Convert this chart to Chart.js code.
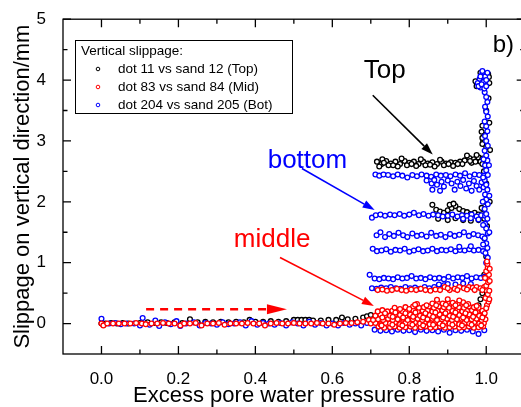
<!DOCTYPE html>
<html>
<head>
<meta charset="utf-8">
<script src="https://cdn.jsdelivr.net/npm/chart.js@4.4.1/dist/chart.umd.min.js"></script>
<style>
  html, body { margin: 0; padding: 0; background: #fff; overflow: hidden; }
  #chart { display: block; }
</style>
</head>
<body>
<canvas id="chart" width="530" height="407"></canvas>
<script>
// tick labels
const xTicks = [0, 0.2, 0.4, 0.6, 0.8, 1.0];
const xMinor = [0.1, 0.3, 0.5, 0.7, 0.9];
const yTicks = [0, 1, 2, 3, 4, 5];
const yMinor = [0.5, 1.5, 2.5, 3.5, 4.5];

const seriesNames = ['dot 11 vs sand 12 (Top)', 'dot 83 vs sand 84 (Mid)', 'dot 204 vs sand 205 (Bot)'];

// dot 11 vs sand 12 (Top), flat x,y pairs
const topBaseline = [
  0,0, 0.01,0, 0.025,0.01, 0.04,0, 0.055,0.01, 0.07,0, 0.1,0.01, 0.12,0.02, 0.14,0.01, 0.155,0.02,
  0.17,0.01, 0.19,0.02, 0.21,0.01, 0.23,0.07, 0.25,0.02, 0.27,0.03, 0.29,0.02, 0.31,0.03, 0.33,0.02,
  0.35,0.03, 0.37,0.02, 0.385,0.06, 0.4,0.03, 0.42,0.03, 0.44,0.04, 0.46,0.03, 0.48,0.04, 0.5,0.06,
  0.51,0.06, 0.52,0.06, 0.53,0.06, 0.54,0.06, 0.55,0.05, 0.57,0.05, 0.59,0.06, 0.61,0.06, 0.625,0.1,
  0.64,0.07, 0.66,0.08, 0.68,0.1, 0.69,0.12, 0.7,0.14, 0.72,0.15, 0.74,0.14, 0.76,0.15, 0.78,0.14,
  0.8,0.15, 0.82,0.14, 0.84,0.15, 0.86,0.15, 0.88,0.14, 0.9,0.15, 0.92,0.15, 0.94,0.16, 0.96,0.18,
  0.97,0.22, 0.98,0.3, 0.985,0.4
];
const topBandHigh = [
  0.716,2.66, 0.728,2.62, 0.74,2.67, 0.752,2.63, 0.764,2.66, 0.776,2.62, 0.788,2.67, 0.8,2.64,
  0.812,2.66, 0.824,2.62, 0.836,2.66, 0.848,2.63, 0.86,2.65, 0.872,2.62, 0.884,2.66, 0.896,2.63,
  0.908,2.65, 0.92,2.64, 0.932,2.66, 0.944,2.68, 0.956,2.72, 0.968,2.7, 0.98,2.73, 0.99,2.71,
  0.722,2.58, 0.746,2.6, 0.77,2.58, 0.794,2.6, 0.818,2.59, 0.842,2.6, 0.866,2.58, 0.89,2.6,
  0.914,2.59, 0.938,2.62, 0.962,2.64, 0.985,2.66, 0.73,2.7, 0.78,2.71, 0.83,2.7, 0.88,2.69,
  0.95,2.76, 0.975,2.77, 0.734,2.64, 0.758,2.6, 0.806,2.62, 0.854,2.61, 0.902,2.62, 0.926,2.62,
  0.958,2.67, 0.972,2.66, 0.99,2.62
];
const topBandLow = [
  0.86,1.95, 0.87,1.87, 0.88,1.84, 0.89,1.82, 0.9,1.86, 0.91,1.9, 0.92,1.93, 0.93,1.88, 0.94,1.85,
  0.95,1.83, 0.96,1.8, 0.97,1.82, 0.98,1.79, 0.99,1.8, 0.875,1.72, 0.9,1.7, 0.92,1.73, 0.94,1.7,
  0.96,1.69, 0.98,1.7, 0.995,1.72, 0.905,1.95, 0.915,1.97
];
const topColumn = [
  0.99,0.5, 0.995,0.8, 1.0,1.1, 0.995,1.4, 1.002,1.6, 0.996,2.0, 1.0,2.3, 0.994,2.5, 1.0,2.9,
  0.996,3.1, 0.998,3.3, 0.992,3.0, 0.99,2.95, 0.99,3.05, 0.975,3.9, 0.985,4.12, 1.005,4.1,
  1.008,3.95, 1.006,3.7, 1.0,3.5, 0.972,3.98, 1.007,4.05, 0.988,3.15, 0.99,3.25, 1.008,3.3,
  1.01,2.85, 1.009,2.0, 0.988,1.9
];

// dot 83 vs sand 84 (Mid)
const midBaseline = [
  0,0, 0.005,-0.03, 0.015,0, 0.03,0, 0.045,0, 0.06,0, 0.075,0, 0.09,0.01, 0.105,0, 0.115,-0.01,
  0.13,0, 0.145,0, 0.16,0.01, 0.175,0, 0.19,0, 0.205,-0.03, 0.215,0, 0.23,0, 0.245,0.01, 0.26,-0.03,
  0.275,0, 0.29,0, 0.305,0.01, 0.32,-0.02, 0.335,0, 0.35,0, 0.365,0, 0.38,0.01, 0.395,0, 0.41,0,
  0.425,-0.03, 0.44,0, 0.455,0.01, 0.47,0, 0.485,0, 0.5,0.01, 0.515,0, 0.53,0, 0.545,0, 0.56,0.01,
  0.575,0, 0.59,0, 0.605,-0.02, 0.62,0, 0.635,0.01, 0.65,0.01, 0.665,0.02, 0.68,0.03, 0.695,0.06
];
const midCloud = [
  0.72,-0.05, 0.735,-0.07, 0.75,-0.06, 0.762,-0.05, 0.775,-0.07, 0.79,-0.06, 0.803,-0.05, 0.815,-0.07,
  0.83,-0.06, 0.842,-0.05, 0.855,-0.07, 0.868,-0.06, 0.88,-0.05, 0.893,-0.07, 0.905,-0.06, 0.918,-0.05,
  0.93,-0.07, 0.942,-0.06, 0.955,-0.05, 0.968,-0.07, 0.98,-0.06, 0.992,-0.05,
  0.7,0, 0.712,0.01, 0.725,-0.01, 0.738,0.01, 0.75,0, 0.763,0.02, 0.776,-0.01, 0.79,0.01, 0.802,0,
  0.815,0.02, 0.828,0, 0.84,0.01, 0.853,-0.01, 0.866,0.01, 0.879,0, 0.892,0.02, 0.905,0, 0.918,0.01,
  0.93,-0.01, 0.943,0.01, 0.956,0, 0.969,0.02, 0.982,0, 0.994,0.01,
  0.706,0.06, 0.719,0.07, 0.732,0.06, 0.745,0.08, 0.757,0.06, 0.77,0.07, 0.783,0.08, 0.796,0.06,
  0.809,0.07, 0.822,0.08, 0.834,0.06, 0.847,0.07, 0.86,0.08, 0.872,0.06, 0.885,0.07, 0.898,0.08,
  0.911,0.06, 0.924,0.07, 0.936,0.08, 0.949,0.06, 0.962,0.07, 0.975,0.08, 0.988,0.06, 0.998,0.07,
  0.712,0.13, 0.725,0.15, 0.738,0.14, 0.75,0.13, 0.763,0.15, 0.776,0.14, 0.79,0.13, 0.802,0.15,
  0.815,0.14, 0.828,0.13, 0.84,0.15, 0.853,0.14, 0.866,0.13, 0.879,0.15, 0.892,0.14, 0.905,0.13,
  0.918,0.15, 0.93,0.14, 0.943,0.13, 0.956,0.15, 0.969,0.14, 0.982,0.13, 0.994,0.15,
  0.718,0.2, 0.73,0.22, 0.743,0.2, 0.756,0.21, 0.77,0.22, 0.783,0.2, 0.796,0.21, 0.81,0.22,
  0.822,0.2, 0.835,0.21, 0.848,0.22, 0.86,0.2, 0.873,0.21, 0.886,0.22, 0.9,0.2, 0.912,0.21,
  0.925,0.22, 0.938,0.2, 0.95,0.21, 0.963,0.22, 0.976,0.2, 0.99,0.21,
  0.762,0.26, 0.79,0.27, 0.81,0.28, 0.825,0.26, 0.838,0.27, 0.851,0.28, 0.864,0.26, 0.877,0.28,
  0.89,0.27, 0.903,0.26, 0.916,0.28, 0.929,0.27, 0.942,0.26, 0.955,0.28, 0.968,0.27, 0.98,0.26,
  0.82,0.32, 0.86,0.33, 0.874,0.34, 0.887,0.33, 0.9,0.35, 0.913,0.34, 0.926,0.33, 0.94,0.35,
  0.953,0.32, 0.872,0.39, 0.9,0.4, 0.93,0.38, 0.815,0.31,
  0.728,-0.03, 0.756,-0.02, 0.782,-0.03, 0.808,-0.02, 0.836,-0.03, 0.862,-0.02, 0.887,-0.03,
  0.912,-0.02, 0.937,-0.03, 0.962,-0.02, 0.987,-0.03,
  0.73,0.1, 0.757,0.11, 0.784,0.1, 0.81,0.11, 0.836,0.1, 0.862,0.11, 0.888,0.1, 0.914,0.11,
  0.94,0.1, 0.966,0.11, 0.99,0.1,
  0.737,0.17, 0.764,0.18, 0.79,0.17, 0.816,0.18, 0.842,0.17, 0.868,0.18, 0.894,0.17, 0.92,0.18,
  0.946,0.17, 0.972,0.18, 0.996,0.17,
  0.776,0.24, 0.8,0.24, 0.845,0.3, 0.87,0.3, 0.895,0.31, 0.92,0.3, 0.948,0.3, 0.975,0.29
];
const midBand = [
  0.718,0.55, 0.73,0.56, 0.742,0.54, 0.755,0.55, 0.768,0.57, 0.78,0.55, 0.792,0.54, 0.805,0.56,
  0.818,0.55, 0.83,0.57, 0.842,0.55, 0.855,0.54, 0.868,0.56, 0.88,0.55, 0.892,0.6, 0.905,0.55,
  0.918,0.57, 0.93,0.6, 0.942,0.58, 0.955,0.6, 0.965,0.59, 0.975,0.6, 0.985,0.58, 0.995,0.6,
  0.9,0.58, 0.925,0.55, 0.95,0.56, 0.97,0.55, 0.99,0.55
];
const midColumn = [
  1.002,0.3, 1.006,0.36, 0.998,0.42, 1.004,0.48, 1.008,0.54, 1.0,0.62, 1.005,0.68, 1.002,0.74,
  1.007,0.8, 1.0,0.86, 1.004,0.92, 1.003,0.98, 1.002,1.02, 1.008,0.4, 1.0,0.25, 1.009,0.7,
  0.997,0.75, 1.009,0.9
];

// dot 204 vs sand 205 (Bot)
const botBaseline = [
  0,0.08, 0.005,-0.02, 0.02,0, 0.035,0.01, 0.05,-0.01, 0.065,0, 0.085,0, 0.1,-0.03, 0.107,0.09,
  0.125,-0.02, 0.14,0.05, 0.15,-0.04, 0.165,0.02, 0.18,-0.01, 0.195,0.04, 0.205,-0.04, 0.22,0,
  0.24,0.02, 0.255,-0.03, 0.27,0.01, 0.285,0, 0.3,-0.02, 0.315,0.02, 0.33,-0.01, 0.345,0, 0.36,0.02,
  0.375,-0.03, 0.39,0.04, 0.405,-0.02, 0.42,0.01, 0.435,0, 0.45,-0.02, 0.465,0.01, 0.48,-0.03,
  0.495,0.02, 0.51,0, 0.525,-0.03, 0.54,0.03, 0.555,-0.02, 0.57,0.01, 0.585,-0.03, 0.6,0,
  0.615,-0.03, 0.63,0.01, 0.645,-0.02, 0.66,0, 0.675,-0.03, 0.69,0.01,
  0.71,-0.1, 0.725,-0.12, 0.74,-0.11, 0.755,-0.13, 0.77,-0.1, 0.785,-0.12, 0.8,-0.11, 0.815,-0.14,
  0.83,-0.1, 0.845,-0.12, 0.86,-0.11, 0.875,-0.13, 0.89,-0.1, 0.905,-0.15, 0.92,-0.11, 0.935,-0.12,
  0.95,-0.1, 0.965,-0.13, 0.98,-0.17, 0.995,-0.11
];
const botBands = [
  0.712,2.45, 0.722,2.43, 0.733,2.45, 0.745,2.44, 0.758,2.42, 0.77,2.45, 0.782,2.43, 0.795,2.4,
  0.808,2.44, 0.82,2.42, 0.832,2.45, 0.845,2.43, 0.857,2.41, 0.87,2.45, 0.882,2.43, 0.895,2.44,
  0.907,2.42, 0.92,2.45, 0.932,2.43, 0.945,2.47, 0.957,2.42, 0.97,2.45, 0.982,2.44, 0.994,2.43,
  0.845,2.35, 0.858,2.3, 0.865,2.36, 0.872,2.28, 0.884,2.33, 0.89,2.25, 0.9,2.35, 0.91,2.3,
  0.918,2.2, 0.925,2.33, 0.933,2.26, 0.94,2.36, 0.948,2.22, 0.955,2.3, 0.962,2.18, 0.968,2.34,
  0.975,2.26, 0.982,2.2, 0.988,2.32, 0.993,2.24, 0.86,2.2, 0.88,2.18,
  0.703,1.74, 0.713,1.78, 0.725,1.79, 0.737,1.77, 0.75,1.79, 0.762,1.78, 0.775,1.8, 0.787,1.77,
  0.8,1.79, 0.812,1.82, 0.825,1.78, 0.837,1.8, 0.85,1.77, 0.862,1.79, 0.875,1.78, 0.887,1.76,
  0.9,1.77, 0.912,1.79, 0.925,1.76, 0.937,1.78, 0.95,1.77, 0.962,1.79, 0.975,1.76, 0.987,1.78,
  0.997,1.77, 0.94,1.72, 0.96,1.73, 0.98,1.71,
  0.715,1.45, 0.725,1.5, 0.737,1.42, 0.748,1.47, 0.76,1.44, 0.772,1.49, 0.784,1.45, 0.795,1.42,
  0.808,1.48, 0.82,1.44, 0.832,1.46, 0.845,1.43, 0.857,1.49, 0.87,1.44, 0.882,1.46, 0.894,1.42,
  0.906,1.47, 0.918,1.44, 0.93,1.46, 0.942,1.5, 0.955,1.44, 0.967,1.47, 0.979,1.45, 0.99,1.43,
  0.705,1.23, 0.716,1.19, 0.728,1.2, 0.74,1.22, 0.752,1.18, 0.764,1.21, 0.776,1.2, 0.788,1.23,
  0.8,1.18, 0.812,1.2, 0.824,1.22, 0.836,1.19, 0.848,1.2, 0.86,1.23, 0.872,1.19, 0.884,1.21,
  0.896,1.2, 0.908,1.22, 0.92,1.19, 0.932,1.21, 0.944,1.2, 0.956,1.22, 0.968,1.2, 0.98,1.21,
  0.992,1.19, 0.96,1.27, 0.93,1.26,
  0.697,0.8, 0.71,0.74, 0.722,0.73, 0.734,0.75, 0.746,0.74, 0.758,0.73, 0.77,0.76, 0.782,0.74,
  0.794,0.75, 0.806,0.78, 0.818,0.74, 0.83,0.75, 0.842,0.73, 0.854,0.76, 0.866,0.74, 0.878,0.75,
  0.89,0.73, 0.902,0.77, 0.914,0.74, 0.926,0.76, 0.938,0.75, 0.95,0.78, 0.962,0.74, 0.974,0.76,
  0.986,0.75, 0.996,0.77,
  0.703,0.58, 0.715,0.57, 0.727,0.59, 0.74,0.58, 0.752,0.6, 0.765,0.58, 0.777,0.57, 0.79,0.6,
  0.802,0.58, 0.815,0.59, 0.828,0.57, 0.84,0.6, 0.852,0.58, 0.865,0.6, 0.877,0.64, 0.89,0.63,
  0.9,0.65, 0.92,0.64, 0.94,0.66, 0.96,0.65
];
const botColumn = [
  1.0,1.0, 1.004,1.08, 0.998,1.16, 1.003,1.24, 1.0,1.32, 0.996,1.4, 1.004,1.48, 1.0,1.56,
  0.997,1.64, 1.003,1.72, 1.0,1.8, 0.996,1.88, 1.004,1.96, 1.0,2.04, 0.997,2.12, 1.003,2.2,
  1.0,2.28, 0.996,2.36, 1.004,2.44, 1.0,2.52, 0.997,2.6, 1.003,2.68, 1.0,2.76, 0.996,2.84,
  1.004,2.92, 1.0,3.0, 0.997,3.08, 1.003,3.16, 1.0,3.24, 0.996,3.32, 1.004,3.4, 1.0,3.48,
  0.997,3.56, 1.003,3.64, 1.0,3.72, 0.996,3.8,
  0.978,3.95, 0.983,4.02, 0.985,3.88, 0.99,4.1, 0.993,3.97, 0.997,4.06, 0.98,3.9, 0.988,3.93,
  0.995,3.86, 1.0,4.0, 1.003,4.12, 0.99,4.15, 0.985,4.06, 1.0,3.9,
  0.992,1.3, 0.992,1.62, 0.991,2.0, 0.992,2.4, 0.993,2.7, 1.008,1.5, 1.008,2.1, 1.007,2.6
];

function pairs(list) {
  const out = [];
  for (let i = 0; i < list.length; i += 2) out.push({ x: list[i], y: list[i + 1] });
  return out;
}

const FONT = "'Liberation Sans', Arial, sans-serif";
const colors = ['#000000', '#ff0000', '#0000ff'];

function scatterSet(label, color, points) {
  return {
    label: label,
    data: points,
    borderColor: color,
    backgroundColor: '#ffffff',
    pointRadius: 2.4,
    pointBorderWidth: 1.3,
    showLine: false
  };
}

// annotations in data units
const notes = [
  { text: 'Top', x: 0.682, y: 4.03, color: '#000000' },
  { text: 'bottom', x: 0.432, y: 2.55, color: '#0000ff' },
  { text: 'middle', x: 0.344, y: 1.26, color: '#ff0000' }
];
const arrows = [
  { from: [0.705, 3.75], to: [0.861, 2.776], color: '#000000' },
  { from: [0.521, 2.547], to: [0.71, 1.865], color: '#0000ff' },
  { from: [0.464, 1.086], to: [0.708, 0.29], color: '#ff0000' }
];

function drawArrow(ctx, x1, y1, x2, y2, color, width, headLen, headHalf, dash) {
  const ang = Math.atan2(y2 - y1, x2 - x1);
  const bx = x2 - Math.cos(ang) * headLen;
  const by = y2 - Math.sin(ang) * headLen;
  ctx.save();
  ctx.strokeStyle = color;
  ctx.fillStyle = color;
  ctx.lineWidth = width;
  ctx.setLineDash(dash || []);
  ctx.beginPath();
  ctx.moveTo(x1, y1);
  ctx.lineTo(bx, by);
  ctx.stroke();
  ctx.setLineDash([]);
  ctx.beginPath();
  ctx.moveTo(x2, y2);
  ctx.lineTo(bx + Math.sin(ang) * headHalf, by - Math.cos(ang) * headHalf);
  ctx.lineTo(bx - Math.sin(ang) * headHalf, by + Math.cos(ang) * headHalf);
  ctx.closePath();
  ctx.fill();
  ctx.restore();
}

const decorations = {
  id: 'decorations',
  afterDatasetsDraw(chart) {
    const { ctx, chartArea: a, scales: { x, y } } = chart;
    ctx.save();

    // frame and inward ticks
    ctx.strokeStyle = '#000';
    ctx.lineWidth = 1.3;
    ctx.strokeRect(a.left, a.top, a.right - a.left, a.bottom - a.top);
    ctx.beginPath();
    const xt = (v, len) => {
      const px = x.getPixelForValue(v);
      ctx.moveTo(px, a.bottom); ctx.lineTo(px, a.bottom - len);
      ctx.moveTo(px, a.top); ctx.lineTo(px, a.top + len);
    };
    const yt = (v, len) => {
      const py = y.getPixelForValue(v);
      ctx.moveTo(a.left, py); ctx.lineTo(a.left + len, py);
      ctx.moveTo(a.right, py); ctx.lineTo(a.right - len, py);
    };
    xTicks.forEach(v => xt(v, 8));
    xMinor.forEach(v => xt(v, 4.5));
    yTicks.forEach(v => yt(v, 8));
    yMinor.forEach(v => yt(v, 4.5));
    ctx.stroke();

    // legend box
    ctx.lineWidth = 1;
    ctx.strokeRect(75.5, 40.5, 217, 73);
    ctx.fillStyle = '#000';
    ctx.font = '13.5px ' + FONT;
    ctx.textBaseline = 'middle';
    ctx.textAlign = 'left';
    ctx.fillText('Vertical slippage:', 81, 51);
    seriesNames.forEach((name, i) => {
      const ly = 69 + i * 18;
      ctx.beginPath();
      ctx.arc(98, ly, 1.8, 0, Math.PI * 2);
      ctx.fillStyle = '#fff';
      ctx.fill();
      ctx.strokeStyle = colors[i];
      ctx.stroke();
      ctx.fillStyle = '#000';
      ctx.fillText(name, 118, ly);
    });

    // panel tag
    ctx.textBaseline = 'alphabetic';
    ctx.font = '24px ' + FONT;
    ctx.fillText('b)', x.getPixelForValue(1.017), y.getPixelForValue(4.46));

    // labels and arrows
    ctx.font = '26px ' + FONT;
    notes.forEach(n => {
      ctx.fillStyle = n.color;
      ctx.fillText(n.text, x.getPixelForValue(n.x), y.getPixelForValue(n.y));
    });
    arrows.forEach(r => {
      drawArrow(ctx, x.getPixelForValue(r.from[0]), y.getPixelForValue(r.from[1]),
        x.getPixelForValue(r.to[0]), y.getPixelForValue(r.to[1]), r.color, 1.6, 12, 4);
    });
    drawArrow(ctx, x.getPixelForValue(0.116), y.getPixelForValue(0.237),
      x.getPixelForValue(0.482), y.getPixelForValue(0.237), '#ff0000', 2.5, 20, 5, [8, 6]);

    ctx.restore();
  }
};

new Chart(document.getElementById('chart'), {
  type: 'scatter',
  data: {
    datasets: [
      scatterSet(seriesNames[1], colors[1], pairs([].concat(midBaseline, midCloud, midBand, midColumn))),
      scatterSet(seriesNames[2], colors[2], pairs([].concat(botBaseline, botBands, botColumn))),
      scatterSet(seriesNames[0], colors[0], pairs([].concat(topBaseline, topBandHigh, topBandLow, topColumn)))
    ]
  },
  options: {
    responsive: false,
    animation: false,
    events: [],
    layout: { padding: { top: 15, right: 5, left: 0, bottom: 0 } },
    plugins: { legend: { display: false }, tooltip: { enabled: false } },
    scales: {
      x: {
        type: 'linear',
        min: -0.1,
        max: 1.1,
        afterBuildTicks: s => { s.ticks = xTicks.map(v => ({ value: v })); },
        afterFit: s => { s.height = 53; },
        grid: { display: false },
        border: { display: false },
        ticks: {
          padding: 7,
          color: '#000',
          font: { family: FONT, size: 17 },
          callback: v => v.toFixed(1)
        },
        title: {
          display: true,
          text: 'Excess pore water pressure ratio',
          color: '#000',
          font: { family: FONT, size: 22, lineHeight: 1 },
          padding: 0
        }
      },
      y: {
        type: 'linear',
        min: -0.5,
        max: 5,
        afterBuildTicks: s => { s.ticks = yTicks.map(v => ({ value: v })); },
        afterFit: s => { s.width = 63; },
        grid: { display: false },
        border: { display: false },
        ticks: {
          padding: 9,
          color: '#000',
          font: { family: FONT, size: 17 },
          callback: v => String(v)
        },
        title: {
          display: true,
          text: 'Slippage on vertical direction/mm',
          color: '#000',
          font: { family: FONT, size: 22, lineHeight: 1 },
          padding: { top: 12, bottom: 0 }
        }
      }
    }
  },
  plugins: [decorations]
});
</script>
</body>
</html>
